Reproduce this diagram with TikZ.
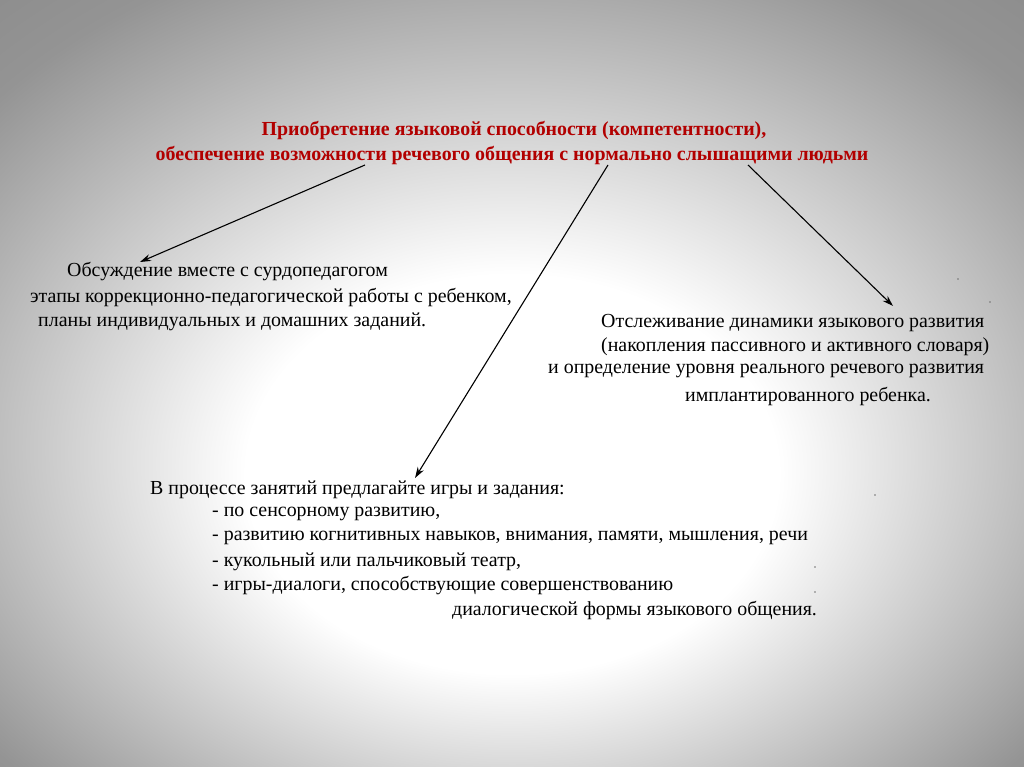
\documentclass[tikz,border=0pt]{standalone}
\usepackage{fontspec}
\setmainfont{Liberation Serif}
\usetikzlibrary{arrows.meta}
\pgfdeclareradialshading{bgshade}{\pgfpoint{0bp}{-8bp}}{color(0bp)=(white); color(13bp)=(white); color(33bp)=(black!42); color(50bp)=(black!52)}
\begin{document}
\begin{tikzpicture}[x=1pt,y=-1pt,
  txt/.style={anchor=west,inner sep=0pt,font=\fontsize{19.9}{24}\selectfont},
  ttl/.style={inner sep=0pt,font=\bfseries\fontsize{19.9}{24}\selectfont,text=red!70!black},
  arr/.style={-{Stealth[length=11pt,width=7pt]},line width=1.1pt},
  speck/.style={fill=black!55,circle,inner sep=0.6pt}]
\useasboundingbox (0,0) rectangle (1024,767);
\shade[shading=bgshade] (0,0) rectangle (1024,767);
\node[ttl] (t1) at (514,130) {Приобретение языковой способности (компетентности),};
\node[ttl] (t2) at (512,155) {обеспечение возможности речевого общения с нормально слышащими людьми};
\node[txt] (l1) at (67,272) {Обсуждение вместе с сурдопедагогом};
\node[txt] (l2) at (30,297) {этапы коррекционно-педагогической работы с ребенком,};
\node[txt] (l3) at (38,322) {планы индивидуальных и домашних заданий.};
\node[txt] (r1) at (601,323) {Отслеживание динамики языкового развития};
\node[txt] (r2) at (601,347) {(накопления пассивного и активного словаря)};
\node[txt] (r3) at (548,371) {и определение уровня реального речевого развития};
\node[txt] (r4) at (685,396) {имплантированного ребенка.};
\node[txt] (b0) at (150,490) {В процессе занятий предлагайте игры и задания:};
\node[txt] (b1) at (212,514) {- по сенсорному развитию,};
\node[txt] (b2) at (212,538) {- развитию когнитивных навыков, внимания, памяти, мышления, речи};
\node[txt] (b3) at (212,562) {- кукольный или пальчиковый театр,};
\node[txt] (b4) at (212,586) {- игры-диалоги, способствующие совершенствованию};
\node[txt] (b5) at (452,610) {диалогической формы языкового общения.};
\coordinate (a1s) at (365,165); \coordinate (a1e) at (140,262);
\coordinate (a2s) at (608,165); \coordinate (a2e) at (415,478);
\coordinate (a3s) at (748,165); \coordinate (a3e) at (893,306);
\draw[arr] (a1s) -- (a1e);
\draw[arr] (a2s) -- (a2e);
\draw[arr] (a3s) -- (a3e);
\node[speck] (d1) at (958,279) {};
\node[speck] (d2) at (990,302) {};
\node[speck] (d3) at (875,495) {};
\node[speck] (d4) at (815,567) {};
\node[speck] (d5) at (815,592) {};
\end{tikzpicture}
\end{document}
